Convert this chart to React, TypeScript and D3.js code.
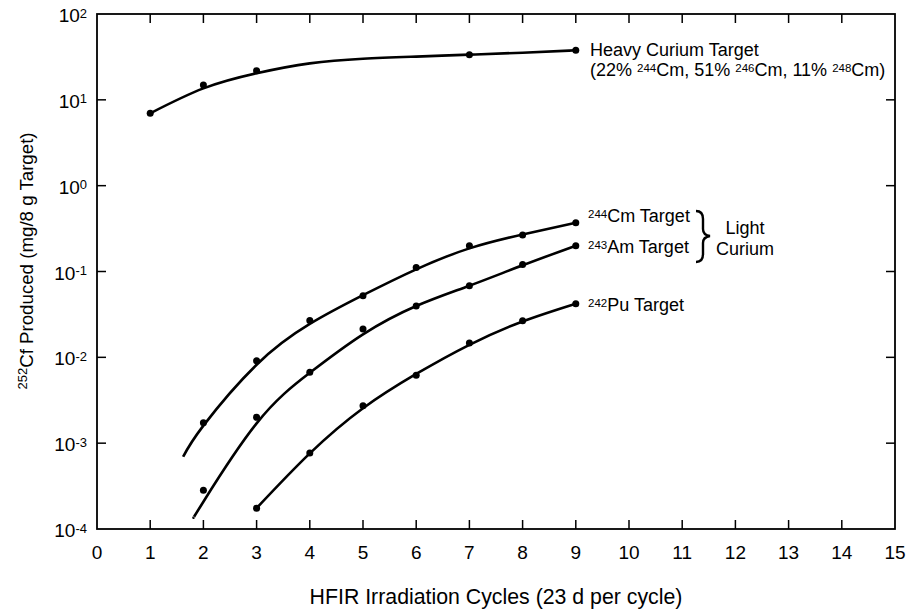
import React, { useEffect, useRef } from 'react'
import * as d3 from 'd3'

// measured points (cycle, mg/8 g)
const heavyCycles = [1, 2, 3, 7, 9]
const heavyValues = [6.97, 14.9, 21.8, 33.6, 37.8]
const cm244Cycles = [2, 3, 4, 5, 6, 7, 8, 9]
const cm244Values = [1.73e-3, 9.1e-3, 0.0268, 0.0522, 0.111, 0.2, 0.266, 0.37]
const am243Cycles = [2, 3, 4, 5, 6, 7, 8, 9]
const am243Values = [2.82e-4, 2.0e-3, 6.7e-3, 0.0214, 0.0396, 0.0683, 0.121, 0.2]
const pu242Cycles = [3, 4, 5, 6, 7, 8, 9]
const pu242Values = [1.75e-4, 7.7e-4, 2.73e-3, 6.2e-3, 0.0147, 0.0267, 0.0422]

// fitted curves
const heavyFitCycles = [1, 2, 3, 4, 5, 6, 7, 8, 9]
const heavyFit = [6.97, 13.6, 20.4, 26.6, 30.1, 31.9, 33.6, 35.4, 37.8]
const cm244FitCycles = [1.62, 2, 3, 4, 5, 6, 7, 8, 9]
const cm244Fit = [6.95e-4, 1.6e-3, 8.2e-3, 0.0245, 0.053, 0.106, 0.186, 0.27, 0.37]
const am243FitCycles = [1.82, 2, 3, 4, 5, 6, 7, 8, 9]
const am243Fit = [1.37e-4, 2.08e-4, 1.7e-3, 6.6e-3, 0.0185, 0.0396, 0.0683, 0.118, 0.2]
const pu242FitCycles = [3, 4, 5, 6, 7, 8, 9]
const pu242Fit = [1.75e-4, 7.6e-4, 2.55e-3, 6.4e-3, 0.014, 0.0262, 0.0422]

const xTicks = d3.range(0, 16)
const yExponents = ['2', '1', '0', '-1', '-2', '-3', '-4']

const font = '"Liberation Sans", Arial, sans-serif'

const App = () => {
    const ref = useRef(null)

    useEffect(() => {
        const margin = { top: 14, right: 12, bottom: 82, left: 97 }
            , width = 907
            , height = 611

        const x = d3.scaleLinear().domain([0, 15]).range([margin.left, width - margin.right])
        const y = d3.scaleLog().domain([1e-4, 1e2]).range([height - margin.bottom, margin.top])

        const svg = d3.select(ref.current)
        svg.selectAll('*').remove()

        // frame
        svg.append('rect')
            .attr('x', x(0)).attr('y', y(1e2))
            .attr('width', x(15) - x(0)).attr('height', y(1e-4) - y(1e2))
            .attr('fill', 'none').attr('stroke', '#000').attr('stroke-width', 1.8)

        const tk = 9
        const inner = xTicks.filter(d => d > 0 && d < 15)
        svg.append('g').selectAll('line').data(inner).enter().append('line')
            .attr('x1', d => x(d)).attr('x2', d => x(d))
            .attr('y1', y(1e-4)).attr('y2', y(1e-4) - tk)
            .attr('stroke', '#000').attr('stroke-width', 1.5)
        svg.append('g').selectAll('line').data(inner).enter().append('line')
            .attr('x1', d => x(d)).attr('x2', d => x(d))
            .attr('y1', y(1e2)).attr('y2', y(1e2) + tk)
            .attr('stroke', '#000').attr('stroke-width', 1.5)

        const decades = yExponents.map(e => Math.pow(10, +e)).filter(v => v < 100 && v > 1e-4)
        svg.append('g').selectAll('line').data(decades).enter().append('line')
            .attr('x1', x(0)).attr('x2', x(0) + tk)
            .attr('y1', d => y(d)).attr('y2', d => y(d))
            .attr('stroke', '#000').attr('stroke-width', 1.5)
        svg.append('g').selectAll('line').data(decades).enter().append('line')
            .attr('x1', x(15)).attr('x2', x(15) - tk)
            .attr('y1', d => y(d)).attr('y2', d => y(d))
            .attr('stroke', '#000').attr('stroke-width', 1.5)

        // x tick labels
        svg.append('g').selectAll('text').data(xTicks).enter().append('text')
            .attr('x', d => x(d)).attr('y', 559)
            .attr('text-anchor', 'middle')
            .style('font-family', font).style('font-size', '19px')
            .text(d => d)

        // y tick labels
        const yl = svg.append('g').selectAll('text').data(yExponents).enter().append('text')
            .attr('x', 87).attr('y', d => y(Math.pow(10, +d)) + 8)
            .attr('text-anchor', 'end')
            .style('font-family', font).style('font-size', '19px')
        yl.append('tspan').text('10')
        yl.append('tspan').attr('dy', -4.5).style('font-size', '13px').text(d => d)

        // axis titles
        svg.append('text')
            .attr('x', (x(0) + x(15)) / 2).attr('y', 604)
            .attr('text-anchor', 'middle')
            .style('font-family', font).style('font-size', '21.3px')
            .text('HFIR Irradiation Cycles (23 d per cycle)')

        const yt = svg.append('text')
            .attr('transform', 'translate(33,261)rotate(-90)')
            .attr('text-anchor', 'middle')
            .style('font-family', font).style('font-size', '18.7px')
        yt.append('tspan').attr('dy', -6).style('font-size', '13px').text('252')
        yt.append('tspan').attr('dy', 6).text('Cf Produced (mg/8 g Target)')

        const line = d3.line()
            .x(d => x(d[0]))
            .y(d => y(d[1]))
            .curve(d3.curveNatural)

        const series = [
            [heavyCycles, heavyValues, heavyFitCycles, heavyFit],
            [cm244Cycles, cm244Values, cm244FitCycles, cm244Fit],
            [am243Cycles, am243Values, am243FitCycles, am243Fit],
            [pu242Cycles, pu242Values, pu242FitCycles, pu242Fit],
        ]

        series.forEach(([cx, cv, fx, fv]) => {
            svg.append('path')
                .datum(fx.map((d, i) => [d, fv[i]]))
                .attr('d', line)
                .attr('fill', 'none').attr('stroke', '#000').attr('stroke-width', 2.6)
            svg.append('g').selectAll('circle').data(cx.map((d, i) => [d, cv[i]])).enter()
                .append('circle')
                .attr('cx', d => x(d[0])).attr('cy', d => y(d[1]))
                .attr('r', 3.5).attr('fill', '#000')
        })

        // labels
        const fs = '18px', ss = '11.5px'
        const lab = (xx, yy, parts) => {
            const t = svg.append('text').attr('x', xx).attr('y', yy)
                .style('font-family', font).style('font-size', fs)
            parts.forEach(([txt, sup], i) => {
                const prevSup = i > 0 && parts[i - 1][1]
                const s = t.append('tspan').text(txt)
                if (sup) s.attr('dy', -4.5).style('font-size', ss)
                else if (prevSup) s.attr('dy', 4.5)
            })
            return t
        }
        lab(590, 56, [['Heavy Curium Target', false]])
        lab(590, 76, [['(22% ', false], ['244', true], ['Cm, 51% ', false], ['246', true],
            ['Cm, 11% ', false], ['248', true], ['Cm)', false]])

        lab(588, 222, [['244', true], ['Cm Target', false]])
        lab(588, 253, [['243', true], ['Am Target', false]])
        lab(588, 311, [['242', true], ['Pu Target', false]])

        // brace
        svg.append('path')
            .attr('d', 'M696,211 Q703,211 703,219 L703,229 Q703,235 710,236 Q703,237 703,243 L703,254 Q703,262 696,262')
            .attr('fill', 'none').attr('stroke', '#000').attr('stroke-width', 2.4)

        svg.append('text').attr('x', 745).attr('y', 234)
            .attr('text-anchor', 'middle')
            .style('font-family', font).style('font-size', fs).text('Light')
        svg.append('text').attr('x', 745).attr('y', 255)
            .attr('text-anchor', 'middle')
            .style('font-family', font).style('font-size', fs).text('Curium')
    }, [])

    return (
        <svg ref={ref} width={907} height={611}
            style={{ position: 'absolute', left: 0, top: 0, background: '#fff' }}>
        </svg>
    )
}
export default App
